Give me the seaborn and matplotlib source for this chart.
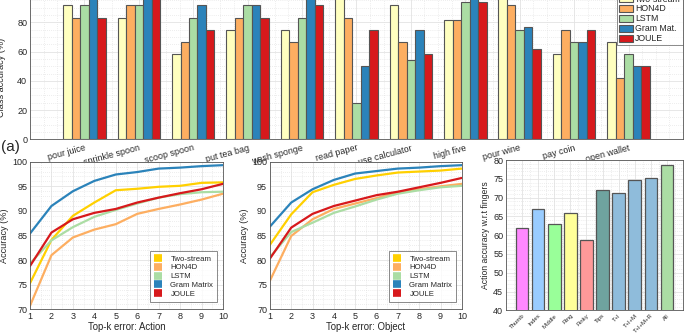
import matplotlib
matplotlib.use("Agg")
import matplotlib.pyplot as plt
import seaborn as sns
import pandas as pd
import numpy as np
from matplotlib.lines import Line2D
from matplotlib.patches import Patch
from matplotlib.ticker import MultipleLocator

sns.set_theme(style="white")
plt.rcParams['font.family'] = ['Liberation Sans', 'DejaVu Sans']

# ---------------- data ----------------
classes = ["pour juice", "sprinkle spoon", "scoop spoon", "put tea bag", "wash sponge",
           "read paper", "use calculator", "high five", "pour wine", "pay coin", "open wallet"]
methods_bar = ["Two-stream", "HON4D", "LSTM", "Gram Mat.", "JOULE"]
two_stream_cls = [91.7, 83.3, 58.3, 75.0, 75.0, 100.0, 91.7, 81.8, 100.0, 58.3, 66.7]
hon4d_cls      = [83.3, 91.7, 66.7, 83.3, 66.7, 83.3, 66.7, 81.8, 91.7, 75.0, 41.7]
lstm_cls       = [91.7, 91.7, 83.3, 91.7, 83.3, 25.0, 54.5, 93.7, 75.0, 66.7, 58.3]
gram_cls       = [100.0, 100.0, 91.7, 91.7, 100.0, 50.0, 75.0, 100.0, 76.9, 66.7, 50.0]
joule_cls      = [83.3, 100.0, 75.0, 83.3, 91.7, 75.0, 58.3, 93.7, 61.5, 75.0, 50.0]

topk = [1, 2, 3, 4, 5, 6, 7, 8, 9, 10]
methods_line = ["Two-stream", "HON4D", "LSTM", "Gram Matrix", "JOULE"]
act_two_stream = [75.3, 84.1, 89.0, 91.7, 94.2, 94.5, 94.9, 95.1, 95.7, 95.8]
act_hon4d      = [70.7, 81.0, 84.6, 86.2, 87.3, 89.4, 90.4, 91.3, 92.3, 93.5]
act_lstm       = [79.3, 84.0, 86.7, 88.8, 90.2, 91.5, 92.7, 93.4, 93.8, 93.9]
act_gram       = [85.4, 91.0, 94.0, 96.1, 97.4, 97.9, 98.6, 98.8, 99.1, 99.3]
act_joule      = [78.8, 85.6, 88.3, 89.6, 90.4, 91.7, 92.7, 93.6, 94.4, 95.5]

obj_two_stream = [83.1, 89.3, 93.8, 95.3, 96.5, 97.2, 97.8, 98.0, 98.2, 98.6]
obj_hon4d      = [75.8, 84.9, 88.3, 90.4, 91.5, 92.6, 93.8, 94.4, 95.0, 95.5]
obj_lstm       = [80.6, 85.7, 87.6, 89.6, 90.9, 92.3, 93.5, 94.2, 94.8, 95.1]
obj_gram       = [86.8, 91.7, 94.4, 96.3, 97.6, 98.1, 98.6, 98.8, 99.1, 99.3]
obj_joule      = [80.3, 86.6, 89.4, 91.0, 92.1, 93.2, 93.9, 94.8, 95.7, 96.7]

fingers = ["Thumb", "Index", "Middle", "Ring", "Pinky", "Tips", "T+I", "T+I+M", "T+I+M+R", "All"]
finger_acc = [61.9, 66.9, 62.9, 65.8, 58.6, 71.9, 71.1, 74.6, 75.3, 78.8]

# ---------------- styles ----------------
bar_colors = ["#FFFFBF", "#FDAE61", "#ABDDA4", "#2B83BA", "#D7191C"]
line_colors = ["#FFD000", "#FDAE61", "#ABDDA4", "#2B83BA", "#D7191C"]
finger_colors = ["#FF88FF", "#99CCFF", "#99FF99", "#FFFF99", "#FF9999",
                 "#6FA39F", "#8FBCDB", "#8FBCDB", "#8FBCDB", "#ABDDA4"]
tick_c = "#262626"


def style_axes(ax):
    for s in ax.spines.values():
        s.set_visible(True)
        s.set_color("#555555")
        s.set_linewidth(0.6)
    ax.grid(True, which="major", color="#e3e3e3", lw=0.6, ls="-")
    ax.grid(True, which="minor", color="#dcdcdc", lw=0.5, ls=(0, (1, 2)))
    ax.set_axisbelow(True)
    ax.tick_params(which="both", direction="in", length=0, colors=tick_c, labelsize=6.5, pad=2)


fig = plt.figure(figsize=(6.85, 3.33), dpi=100)

# ---------------- top grouped bar chart ----------------
ax0 = fig.add_axes([0.0438, 0.5817, 0.9532, 0.439])
rows = []
for m, vals in zip(methods_bar, [two_stream_cls, hon4d_cls, lstm_cls, gram_cls, joule_cls]):
    for c, v in zip(classes, vals):
        rows.append({"cls": c, "method": m, "acc": v})
df_cls = pd.DataFrame(rows)
sns.barplot(data=df_cls, x="cls", y="acc", hue="method", order=classes, hue_order=methods_bar,
            palette=bar_colors, width=0.78, edgecolor="#555555", linewidth=0.8,
            saturation=1, ax=ax0, legend=False)
ax0.set_xlim(-1, 11)
ax0.set_ylim(0, 100)
ax0.yaxis.set_major_locator(MultipleLocator(20))
ax0.yaxis.set_minor_locator(MultipleLocator(5))
ax0.xaxis.set_minor_locator(MultipleLocator(0.25))
style_axes(ax0)
ax0.set_xlabel("")
ax0.set_ylabel("Class accuracy (%)", fontsize=6.6, color=tick_c)
ax0.yaxis.set_label_coords(-0.037, 0.42)
ax0.set_xticks(range(len(classes)))
ax0.set_xticklabels(classes, rotation=15, ha="right", rotation_mode="anchor", fontsize=6.4)
ax0.tick_params(axis="x", pad=3)
handles = [Patch(facecolor=c, edgecolor="#555555", lw=0.8) for c in bar_colors]
leg0 = ax0.legend(handles, methods_bar, loc="upper right", bbox_to_anchor=(1.0, 1.005),
                  fontsize=6.3, frameon=True, fancybox=False, borderaxespad=0.0,
                  handlelength=1.6, handleheight=0.85, labelspacing=0.1,
                  handletextpad=0.25, borderpad=0.25)
leg0.get_frame().set_edgecolor("#555555")
leg0.get_frame().set_linewidth(0.6)
fig.text(0.001, 0.56, "(a)", fontsize=11, color=tick_c, va="center", ha="left")


# ---------------- line charts ----------------
def line_panel(ax, series, xlabel):
    rows = []
    for m, vals in zip(methods_line, series):
        for k, v in zip(topk, vals):
            rows.append({"k": k, "method": m, "acc": v})
    df = pd.DataFrame(rows)
    sns.lineplot(data=df, x="k", y="acc", hue="method", hue_order=methods_line,
                 palette=line_colors, lw=1.6, ax=ax, legend=False)
    ax.set_xlim(1, 10)
    ax.set_ylim(70, 100)
    ax.xaxis.set_major_locator(MultipleLocator(1))
    ax.xaxis.set_minor_locator(MultipleLocator(0.5))
    ax.yaxis.set_major_locator(MultipleLocator(5))
    ax.yaxis.set_minor_locator(MultipleLocator(1))
    style_axes(ax)
    ax.set_xlabel(xlabel, fontsize=6.9, color=tick_c, labelpad=1)
    ax.set_ylabel("Accuracy (%)", fontsize=6.6, color=tick_c, labelpad=2)
    hs = [Line2D([0], [0], color=c, lw=5.5, solid_capstyle="butt") for c in line_colors]
    lg = ax.legend(hs, methods_line, loc="lower right", bbox_to_anchor=(0.97, 0.05),
                   fontsize=5.6, frameon=True, fancybox=False, handlelength=1.0,
                   labelspacing=0.18, handletextpad=1.1, borderpad=0.5,
                   borderaxespad=0.0)
    lg.get_frame().set_edgecolor("#555555")
    lg.get_frame().set_linewidth(0.6)


ax1 = fig.add_axes([0.0438, 0.0712, 0.2818, 0.4432])
line_panel(ax1, [act_two_stream, act_hon4d, act_lstm, act_gram, act_joule], "Top-k error: Action")
ax2 = fig.add_axes([0.394, 0.0712, 0.2803, 0.4432])
line_panel(ax2, [obj_two_stream, obj_hon4d, obj_lstm, obj_gram, obj_joule], "Top-k error: Object")

# ---------------- finger bar chart ----------------
ax3 = fig.add_axes([0.7387, 0.0682, 0.2584, 0.4513])
df_f = pd.DataFrame({"finger": fingers, "acc": finger_acc})
sns.barplot(data=df_f, x="finger", y="acc", hue="finger", order=fingers, hue_order=fingers,
            palette=finger_colors, width=0.78, edgecolor="#555555", linewidth=0.9,
            saturation=1, ax=ax3, legend=False)
ax3.set_xlim(-1, 10)
ax3.set_ylim(40, 80)
ax3.yaxis.set_major_locator(MultipleLocator(5))
ax3.yaxis.set_minor_locator(MultipleLocator(1))
ax3.xaxis.set_minor_locator(MultipleLocator(0.5))
style_axes(ax3)
ax3.set_xlabel("")
ax3.set_ylabel("Action accuracy w.r.t fingers", fontsize=6.2, color=tick_c, labelpad=2)
ax3.set_xticks(range(len(fingers)))
ax3.set_xticklabels(fingers, rotation=45, ha="right", rotation_mode="anchor", fontsize=4.3)

fig.savefig("out.png", dpi=100)
